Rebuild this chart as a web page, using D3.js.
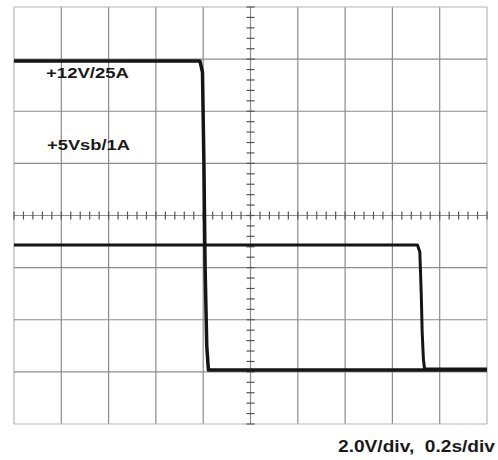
<!DOCTYPE html>
<html>
<head>
<meta charset="utf-8">
<script src="https://cdn.jsdelivr.net/npm/d3@7"></script>
<style>
  body { margin: 0; background: #fff; }
  svg { display: block; }
</style>
</head>
<body>
<script>
// scope graticule: 10 x 8 divisions
var timeTicks = [0, 0.2, 0.4, 0.6, 0.8, 1.0, 1.2, 1.4, 1.6, 1.8, 2.0];   // s
var voltTicks = [-2, 0, 2, 4, 6, 8, 10, 12, 14];                         // V

// traces (time s, volts)
var rail12Time = [0, 0.786, 0.797, 0.803, 0.808, 0.815, 0.822, 2.0];
var rail12Volt = [11.93, 11.93, 11.5, 8.0, 4.0, 1.0, 0.07, 0.07];
var rail5Time = [0, 1.706, 1.716, 1.722, 1.726, 1.731, 1.736, 2.0];
var rail5Volt = [4.87, 4.87, 4.6, 3.0, 1.5, 0.5, 0.11, 0.11];

var labels = ["+12V/25A", "+5Vsb/1A"];
var scaleNote = "2.0V/div,  0.2s/div";

var svgWidth = 498;
var svgHeight = 460;

var svg = d3.select("body")
    .append("svg")
    .attr("width", svgWidth)
    .attr("height", svgHeight);

var x = d3.scaleLinear().domain([0, 2.0]).range([14, 487]);
var y = d3.scaleLinear().domain([-2, 14]).range([424, 7]);

var grid = svg.append("g").attr("stroke", "#8c8c8c").attr("stroke-width", 1.2);

// vertical division lines
grid.selectAll("line.v")
    .data(timeTicks)
    .enter()
    .append("line")
    .attr("class", "v")
    .attr("x1", d => x(d))
    .attr("x2", d => x(d))
    .attr("y1", y(-2))
    .attr("y2", y(14))
    .attr("stroke", (d, i) => (i === 0 || i === timeTicks.length - 1) ? "#b5b5b5" : "#8c8c8c");

// horizontal division lines
grid.selectAll("line.h")
    .data(voltTicks)
    .enter()
    .append("line")
    .attr("class", "h")
    .attr("x1", x(0))
    .attr("x2", x(2.0))
    .attr("y1", d => y(d))
    .attr("y2", d => y(d))
    .attr("stroke", (d, i) => (i === 0 || i === voltTicks.length - 1) ? "#b5b5b5" : "#8c8c8c");

// minor ticks on the centre lines (5 per division)
var midT = 1.0, midV = 6;
var minorT = d3.range(0, 2.0001, 0.04);
var minorV = d3.range(-2, 14.0001, 0.4);

grid.selectAll("line.mt")
    .data(minorT)
    .enter()
    .append("line")
    .attr("x1", d => x(d))
    .attr("x2", d => x(d))
    .attr("y1", y(midV) - 4)
    .attr("y2", y(midV) + 4)
    .attr("stroke", "#555");

grid.selectAll("line.mv")
    .data(minorV)
    .enter()
    .append("line")
    .attr("x1", x(midT) - 4)
    .attr("x2", x(midT) + 4)
    .attr("y1", d => y(d))
    .attr("y2", d => y(d))
    .attr("stroke", "#555");

// traces
var line = d3.line()
    .x(d => x(d[0]))
    .y(d => y(d[1]))
    .curve(d3.curveMonotoneX);

var trace12 = rail12Time.map((t, i) => [t, rail12Volt[i]]);
var trace5 = rail5Time.map((t, i) => [t, rail5Volt[i]]);

svg.append("path")
    .datum(trace12)
    .attr("fill", "none")
    .attr("stroke", "#151515")
    .attr("stroke-width", 3.5)
    .attr("stroke-linejoin", "round")
    .attr("d", d3.line().x(d => x(d[0])).y(d => y(d[1])));

svg.append("path")
    .datum(trace5)
    .attr("fill", "none")
    .attr("stroke", "#151515")
    .attr("stroke-width", 3)
    .attr("stroke-linejoin", "round")
    .attr("d", d3.line().x(d => x(d[0])).y(d => y(d[1])));

// channel labels
var font = "'Liberation Sans', Arial, sans-serif";

svg.append("text")
    .attr("x", x(0) + 32)
    .attr("y", y(12) + 19)
    .attr("font-family", font)
    .attr("font-weight", "bold")
    .attr("font-size", 15.5)
    .attr("fill", "#1a1a1a")
    .attr("textLength", 83)
    .attr("lengthAdjust", "spacingAndGlyphs")
    .text(labels[0]);

svg.append("text")
    .attr("x", x(0) + 33)
    .attr("y", y(12) + 91)
    .attr("font-family", font)
    .attr("font-weight", "bold")
    .attr("font-size", 15.5)
    .attr("fill", "#1a1a1a")
    .attr("textLength", 83)
    .attr("lengthAdjust", "spacingAndGlyphs")
    .text(labels[1]);

svg.append("text")
    .attr("x", 338)
    .attr("y", 452)
    .attr("font-family", font)
    .attr("font-weight", "bold")
    .attr("font-size", 16.5)
    .attr("fill", "#1a1a1a")
    .attr("textLength", 157)
    .attr("lengthAdjust", "spacingAndGlyphs")
    .style("white-space", "pre")
    .text(scaleNote);
</script>
</body>
</html>
